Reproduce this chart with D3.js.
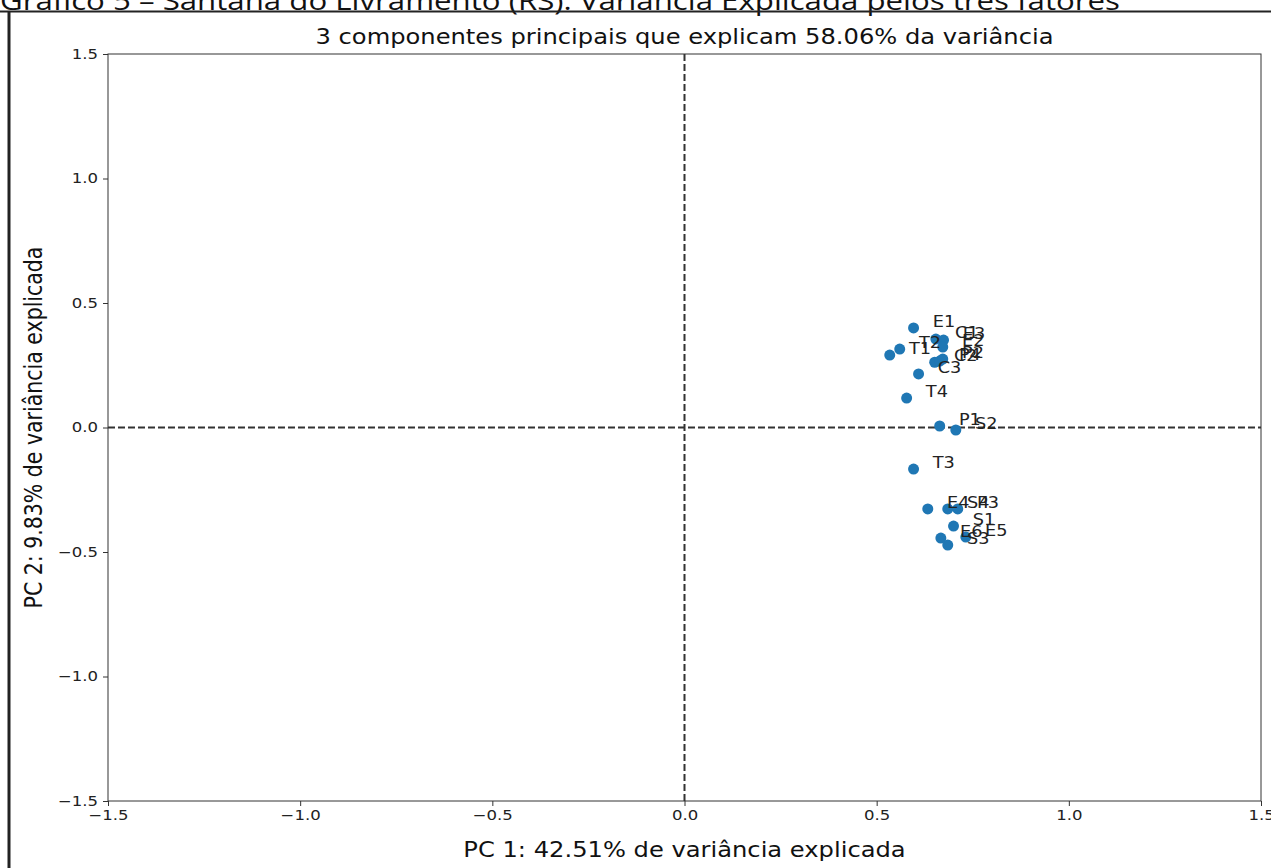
<!DOCTYPE html>
<html>
<head>
<meta charset="utf-8">
<script src="https://cdn.jsdelivr.net/npm/d3@7"></script>
<style>
  html, body { margin: 0; padding: 0; background: #fff; }
  svg { display: block; }
</style>
</head>
<body>
<svg id="chart" width="1271" height="868"></svg>
<script>
const heading = "Gráfico 5 – Santana do Livramento (RS): Variância Explicada pelos três fatores";
const title = "3 componentes principais que explicam 58.06% da variância";
const xLabel = "PC 1: 42.51% de variância explicada";
const yLabel = "PC 2: 9.83% de variância explicada";

const labels = ["E1","T2","T1","C1","E3","E2","C2","P4","P2","C3","T4","P1","S2","T3","E4","S4","P3","S1","E6","E5","S3"];
const pc1 = [0.596,0.560,0.534,0.654,0.674,0.672,0.651,0.664,0.672,0.609,0.578,0.664,0.706,0.596,0.633,0.685,0.711,0.700,0.667,0.732,0.685];
const pc2 = [0.400,0.315,0.291,0.355,0.351,0.323,0.262,0.267,0.275,0.215,0.118,0.006,-0.010,-0.167,-0.327,-0.327,-0.327,-0.396,-0.444,-0.440,-0.472];

const xTicks = [-1.5,-1.0,-0.5,0.0,0.5,1.0,1.5];
const yTicks = [-1.5,-1.0,-0.5,0.0,0.5,1.0,1.5];

const svg = d3.select("#chart");
const pLeft = 108, pRight = 1261, pTop = 54, pBottom = 801;
const SX = 1.18; // horizontal stretch of the original picture

const x = d3.scaleLinear().domain([-1.5, 1.5]).range([pLeft, pRight]);
const y = d3.scaleLinear().domain([-1.5, 1.5]).range([pBottom, pTop]);

// heading (clipped at top, underlined) and frame
svg.append("text")
  .attr("x", 0).attr("y", 10)
  .attr("font-family", "Open Sans")
  .attr("font-size", 25)
  .attr("fill", "#111")
  .attr("textLength", 1120)
  .attr("lengthAdjust", "spacingAndGlyphs")
  .text(heading);
svg.append("line").attr("x1", 0).attr("x2", 1271).attr("y1", 11.5).attr("y2", 11.5)
  .attr("stroke", "#222").attr("stroke-width", 2);
svg.append("line").attr("x1", 9).attr("x2", 9).attr("y1", 11).attr("y2", 868)
  .attr("stroke", "#222").attr("stroke-width", 3);

const font = "DejaVu Sans";

// axes
const fmt = d => d3.format(".1f")(d).replace("-", "\u2212");
const xAxis = d3.axisBottom(x).tickValues(xTicks).tickSizeOuter(0).tickSize(5).tickPadding(4).tickFormat(fmt);
const yAxis = d3.axisLeft(y).tickValues(yTicks).tickSizeOuter(0).tickSize(5).tickPadding(5).tickFormat(fmt);

const gx = svg.append("g").attr("transform", `translate(0,${pBottom})`).call(xAxis);
const gy = svg.append("g").attr("transform", `translate(${pLeft},0)`).call(yAxis);
[gx, gy].forEach(g => {
  g.selectAll("text").attr("font-family", font).attr("font-size", 14).attr("fill", "#222");
  g.selectAll("line").attr("stroke", "#333");
  g.select(".domain").remove();
});
gx.selectAll(".tick text").attr("transform", `scale(${SX},1)`);
gy.selectAll(".tick text").attr("x", -10 / SX).attr("transform", `scale(${SX},1)`);

// spines
svg.append("rect").attr("x", pLeft).attr("y", pTop).attr("width", pRight - pLeft).attr("height", pBottom - pTop)
  .attr("fill", "none").attr("stroke", "#333").attr("stroke-width", 1);

// dashed zero lines
svg.append("line").attr("x1", x(0)).attr("x2", x(0)).attr("y1", pTop).attr("y2", pBottom)
  .attr("stroke", "#333").attr("stroke-width", 2).attr("stroke-dasharray", "7,3");
svg.append("line").attr("x1", pLeft).attr("x2", pRight).attr("y1", y(0)).attr("y2", y(0))
  .attr("stroke", "#333").attr("stroke-width", 2).attr("stroke-dasharray", "7,3");

// points
const data = labels.map((l, i) => ({ label: l, x: pc1[i], y: pc2[i] }));
svg.append("g").selectAll("circle").data(data).join("circle")
  .attr("cx", d => x(d.x)).attr("cy", d => y(d.y)).attr("r", 5.5)
  .attr("fill", "#1f77b4");

svg.append("g").selectAll("text").data(data).join("text")
  .attr("transform", d => `translate(${x(d.x + 0.05)},${y(d.y) - 1}) scale(${SX},1)`)
  .attr("font-family", font).attr("font-size", 15).attr("fill", "#222")
  .text(d => d.label);

// titles
svg.append("text").attr("transform", `translate(${(pLeft + pRight) / 2},44) scale(${SX},1)`)
  .attr("text-anchor", "middle")
  .attr("font-family", font).attr("font-size", 20.5).attr("fill", "#111").text(title);
svg.append("text").attr("transform", `translate(${(pLeft + pRight) / 2},857) scale(${SX},1)`)
  .attr("text-anchor", "middle")
  .attr("font-family", font).attr("font-size", 20.5).attr("fill", "#111").text(xLabel);
svg.append("text").attr("transform", `translate(42,${(pTop + pBottom) / 2}) scale(${SX},1) rotate(-90)`)
  .attr("text-anchor", "middle")
  .attr("font-family", font).attr("font-size", 20.5).attr("fill", "#111").text(yLabel);
</script>
</body>
</html>
